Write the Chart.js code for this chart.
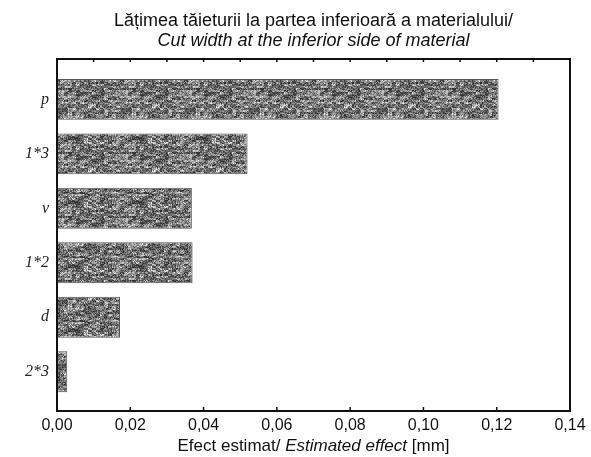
<!DOCTYPE html>
<html>
<head>
<meta charset="utf-8">
<script src="https://cdn.jsdelivr.net/npm/chart.js@4"></script>
<style>
  html,body{margin:0;padding:0;background:#fff;}
  #wrap{width:591px;height:457px;}
</style>
</head>
<body>
<div id="wrap"><canvas id="effect_chart" width="591" height="457"></canvas></div>
<script>
const factorLabels = ['p', '1*3', 'v', '1*2', 'd', '2*3'];
const effectValues = [0.1205, 0.052, 0.0368, 0.0370, 0.0172, 0.0028];
const xTicks = [0, 0.02, 0.04, 0.06, 0.08, 0.10, 0.12, 0.14];
const titleLine1 = 'Lățimea tăieturii la partea inferioară a materialului/';
const titleLine2 = 'Cut width at the inferior side of material';
const xTitleParts = [['Efect estimat/ ', false], ['Estimated effect', true], [' [mm]', false]];

// grainy gray fill like the scanned bars
const makeGrain = () => {
  const N = 64;
  const c = document.createElement('canvas');
  c.width = N; c.height = N;
  const g = c.getContext('2d');
  const img = g.createImageData(N, N);
  const h = (i, j) => {
    let n = Math.imul(i, 374761393) + Math.imul(j, 668265263);
    n = Math.imul(n ^ (n >>> 13), 1274126177);
    return ((n ^ (n >>> 16)) >>> 0) / 4294967295;
  };
  for (let j = 0; j < N; j++) {
    for (let i = 0; i < N; i++) {
      const v = 0.5 * h(i, j) + 0.5 * h(i >> 2, j >> 1);
      const k = Math.round(35 + 210 * Math.pow(v, 1.3));
      const p = (j * N + i) * 4;
      img.data[p] = k; img.data[p + 1] = k; img.data[p + 2] = k; img.data[p + 3] = 255;
    }
  }
  g.putImageData(img, 0, 0);
  return c;
};

const ctx = document.getElementById('effect_chart').getContext('2d');
const grain = ctx.createPattern(makeGrain(), 'repeat');

const framePlugin = {
  id: 'frame',
  afterDraw(chart) {
    const {ctx, chartArea: a, scales} = chart;
    ctx.save();
    ctx.strokeStyle = '#111';
    ctx.lineWidth = 2;
    ctx.strokeRect(a.left, a.top, a.right - a.left, a.bottom - a.top);
    // inward tick marks
    ctx.lineWidth = 1.5;
    xTicks.forEach(v => {
      const x = scales.x.getPixelForValue(v);
      ctx.beginPath(); ctx.moveTo(x, a.bottom); ctx.lineTo(x, a.bottom - 4); ctx.stroke();
    });
    for (let v = 0.01; v < 0.14; v += 0.01) {
      const x = scales.x.getPixelForValue(v);
      ctx.beginPath(); ctx.moveTo(x, a.top); ctx.lineTo(x, a.top + 3); ctx.stroke();
    }
    // titles
    const cx = (a.left + a.right) / 2;
    ctx.fillStyle = '#111';
    ctx.textAlign = 'center';
    ctx.textBaseline = 'alphabetic';
    ctx.font = '18px "Liberation Sans", Arial, sans-serif';
    ctx.fillText(titleLine1, cx, 26);
    ctx.font = 'italic 18px "Liberation Sans", Arial, sans-serif';
    ctx.fillText(titleLine2, cx, 46);
    // x axis title with mixed styles
    const fonts = [false, true].map(it => (it ? 'italic ' : '') + '17px "Liberation Sans", Arial, sans-serif');
    let total = 0;
    xTitleParts.forEach(([t, it]) => { ctx.font = fonts[it ? 1 : 0]; total += ctx.measureText(t).width; });
    let x = cx - total / 2;
    ctx.textAlign = 'left';
    xTitleParts.forEach(([t, it]) => {
      ctx.font = fonts[it ? 1 : 0];
      ctx.fillText(t, x, 451);
      x += ctx.measureText(t).width;
    });
    ctx.restore();
  }
};

new Chart(ctx, {
  type: 'bar',
  data: {
    datasets: [{
      data: effectValues.map((v, i) => ({x: v, y: i})),
      backgroundColor: grain,
      borderColor: '#555',
      borderWidth: 1,
      borderSkipped: false,
      barPercentage: 0.75,
      categoryPercentage: 1.0
    }]
  },
  options: {
    indexAxis: 'y',
    responsive: false,
    animation: false,
    layout: {padding: {top: 59, right: 21, left: 0, bottom: 0}},
    plugins: {legend: {display: false}, tooltip: {enabled: false}},
    scales: {
      x: {
        type: 'linear',
        min: 0, max: 0.14,
        afterBuildTicks: (s) => { s.ticks = xTicks.map(v => ({value: v})); },
        afterFit: (s) => { s.height = 46; },
        grid: {display: false, drawTicks: false},
        border: {display: false},
        ticks: {
          padding: 5,
          color: '#111',
          font: {family: '"Liberation Sans", Arial, sans-serif', size: 16},
          callback: (v) => v.toFixed(2).replace('.', ',')
        }
      },
      y: {
        type: 'linear',
        offset: false,
        reverse: true,
        min: -0.74, max: 5.72,
        afterBuildTicks: (s) => { s.ticks = factorLabels.map((l, i) => ({value: i})); },
        afterFit: (s) => { s.width = 57; },
        grid: {display: false, offset: false, drawTicks: false},
        border: {display: false},
        ticks: {
          padding: 8,
          color: '#222',
          font: {family: '"Liberation Serif", "Times New Roman", serif', size: 16, style: 'italic'},
          callback: (v) => factorLabels[v] ?? ''
        }
      }
    }
  },
  plugins: [framePlugin]
});
</script>
</body>
</html>
